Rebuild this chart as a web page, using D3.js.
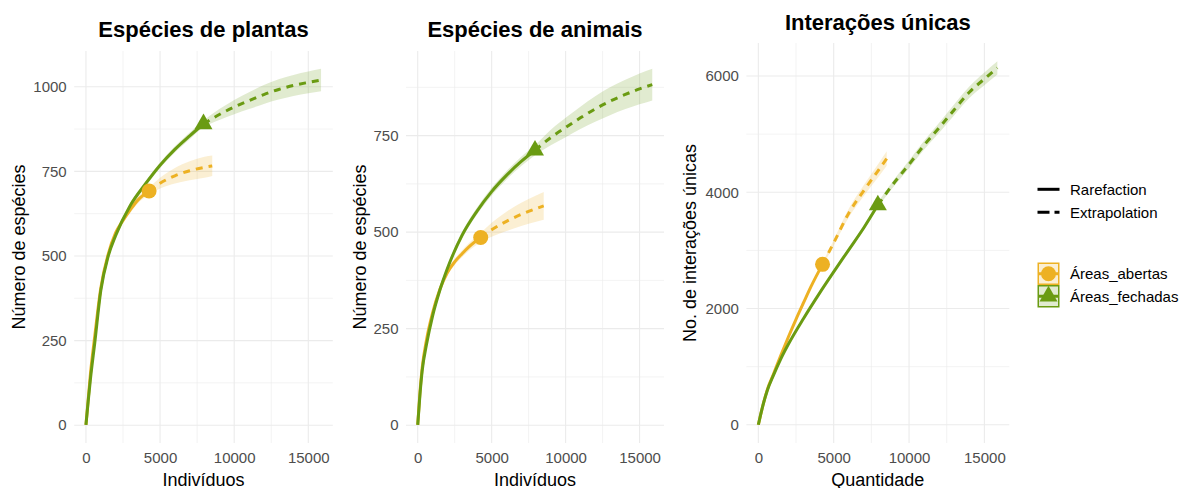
<!DOCTYPE html>
<html>
<head>
<meta charset="utf-8">
<script src="https://cdn.jsdelivr.net/npm/d3@7"></script>
<style>
  html, body { margin: 0; padding: 0; background: #ffffff; }
  svg { display: block; font-family: "Liberation Sans", Arial, sans-serif; }
</style>
</head>
<body>
<svg id="chart" width="1184" height="488"></svg>
<script>
// Sample sizes (individuals / quantity) for each assemblage
const openRareN   = [1, 150, 300, 600, 1000, 1500, 2000, 2500, 3000, 3500, 4260];
const openExtN    = [4260, 5000, 6000, 7000, 8000, 8520];
const closedRareN = [1, 150, 300, 600, 1000, 1500, 2000, 3000, 4000, 5000, 6000, 7000, 7930];
const closedExtN  = [7930, 9000, 10000, 11000, 12000, 13000, 14000, 15000, 15860];

// Espécies de plantas
const plantOpenRare     = [1, 75, 150, 265, 405, 505, 568, 605, 637, 665, 692];
const plantOpenRareLo   = [1, 72, 146, 260, 399, 498, 560, 597, 628, 655, 681];
const plantOpenRareHi   = [1, 78, 154, 270, 411, 512, 576, 613, 646, 675, 703];
const plantOpenExt      = [692, 715, 737, 752, 762, 766];
const plantOpenExtLo    = [681, 699, 714, 724, 731, 736];
const plantOpenExtHi    = [703, 731, 760, 780, 793, 797];
const plantClosedRare   = [1, 70, 135, 245, 397, 499, 560, 650, 712, 768, 815, 855, 890];
const plantClosedRareLo = [1, 68, 132, 241, 392, 493, 554, 643, 704, 760, 806, 845, 880];
const plantClosedRareHi = [1, 72, 138, 249, 402, 505, 566, 657, 720, 776, 824, 865, 900];
const plantClosedExt    = [890, 918, 940, 959, 977, 992, 1004, 1013, 1020];
const plantClosedExtLo  = [880, 902, 919, 934, 949, 962, 973, 981, 987];
const plantClosedExtHi  = [900, 934, 961, 984, 1005, 1022, 1035, 1045, 1053];

// Espécies de animais
const animalOpenRare     = [1, 85, 148, 222, 290, 352, 395, 423, 444, 463, 486];
const animalOpenRareLo   = [1, 83, 145, 218, 285, 346, 388, 415, 435, 453, 474];
const animalOpenRareHi   = [1, 87, 151, 226, 295, 358, 402, 431, 453, 473, 498];
const animalOpenExt      = [486, 506, 528, 546, 561, 568];
const animalOpenExtLo    = [474, 488, 503, 516, 527, 532];
const animalOpenExtHi    = [498, 524, 553, 576, 595, 604];
const animalClosedRare   = [1, 78, 140, 210, 282, 350, 405, 492, 554, 605, 647, 683, 712];
const animalClosedRareLo = [1, 76, 137, 206, 277, 344, 398, 484, 545, 595, 636, 671, 699];
const animalClosedRareHi = [1, 80, 143, 214, 287, 356, 412, 500, 563, 615, 658, 695, 725];
const animalClosedExt    = [712, 745, 771, 796, 819, 839, 856, 871, 882];
const animalClosedExtLo  = [699, 725, 746, 767, 786, 803, 818, 831, 841];
const animalClosedExtHi  = [725, 765, 796, 825, 852, 875, 894, 911, 923];

// Interações únicas
const interOpenRare     = [1, 170, 330, 610, 870, 1200, 1515, 1815, 2100, 2380, 2760];
const interOpenRareLo   = [1, 167, 325, 602, 858, 1185, 1497, 1795, 2078, 2355, 2732];
const interOpenRareHi   = [1, 173, 335, 618, 882, 1215, 1533, 1835, 2122, 2405, 2788];
const interOpenExt      = [2760, 3130, 3640, 4030, 4390, 4580];
const interOpenExtLo    = [2732, 3080, 3565, 3935, 4275, 4455];
const interOpenExtHi    = [2788, 3180, 3715, 4125, 4505, 4705];
const interClosedRare   = [1, 170, 330, 595, 850, 1140, 1390, 1830, 2240, 2630, 3010, 3390, 3780];
const interClosedRareLo = [1, 167, 325, 587, 838, 1125, 1372, 1808, 2214, 2600, 2976, 3352, 3738];
const interClosedRareHi = [1, 173, 335, 603, 862, 1155, 1408, 1852, 2266, 2660, 3044, 3428, 3822];
const interClosedExt    = [3780, 4160, 4480, 4810, 5110, 5420, 5720, 5950, 6140];
const interClosedExtLo  = [3738, 4105, 4415, 4735, 5025, 5325, 5620, 5840, 6025];
const interClosedExtHi  = [3822, 4215, 4545, 4885, 5195, 5515, 5820, 6060, 6255];

// Axis breaks and labels
const xTicks       = [0, 5000, 10000, 15000];
const xMinorTicks  = [2500, 7500, 12500];
const plantYTicks  = [0, 250, 500, 750, 1000];
const plantYMinor  = [125, 375, 625, 875];
const animalYTicks = [0, 250, 500, 750];
const animalYMinor = [125, 375, 625, 875];
const interYTicks  = [0, 2000, 4000, 6000];
const interYMinor  = [1000, 3000, 5000];

const groupNames = ["Áreas_abertas", "Áreas_fechadas"];
const methodNames = ["Rarefaction", "Extrapolation"];
const colors = { open: "#EDB123", closed: "#6A9B12" };

const zip = (n, y, lo, hi) => n.map((v, i) => ({ x: v, y: y[i], lo: lo[i], hi: hi[i] }));

const panels = [
  {
    title: "Espécies de plantas", xTitle: "Indivíduos", yTitle: "Número de espécies",
    yTicks: plantYTicks, yMinor: plantYMinor,
    box: { left: 74.2, right: 332.8, top: 51, bottom: 443 }, yTitleX: 25, titleY: 36.5,
    open:   { rare: zip(openRareN, plantOpenRare, plantOpenRareLo, plantOpenRareHi),
              ext:  zip(openExtN, plantOpenExt, plantOpenExtLo, plantOpenExtHi) },
    closed: { rare: zip(closedRareN, plantClosedRare, plantClosedRareLo, plantClosedRareHi),
              ext:  zip(closedExtN, plantClosedExt, plantClosedExtLo, plantClosedExtHi) }
  },
  {
    title: "Espécies de animais", xTitle: "Indivíduos", yTitle: "Número de espécies",
    yTicks: animalYTicks, yMinor: animalYMinor,
    box: { left: 406, right: 664, top: 51, bottom: 443 }, yTitleX: 365.5, titleY: 36.5,
    open:   { rare: zip(openRareN, animalOpenRare, animalOpenRareLo, animalOpenRareHi),
              ext:  zip(openExtN, animalOpenExt, animalOpenExtLo, animalOpenExtHi) },
    closed: { rare: zip(closedRareN, animalClosedRare, animalClosedRareLo, animalClosedRareHi),
              ext:  zip(closedExtN, animalClosedExt, animalClosedExtLo, animalClosedExtHi) }
  },
  {
    title: "Interações únicas", xTitle: "Quantidade", yTitle: "No. de interações únicas",
    yTicks: interYTicks, yMinor: interYMinor,
    box: { left: 746.4, right: 1009.3, top: 43, bottom: 443 }, yTitleX: 696, titleY: 30,
    open:   { rare: zip(openRareN, interOpenRare, interOpenRareLo, interOpenRareHi),
              ext:  zip(openExtN, interOpenExt, interOpenExtLo, interOpenExtHi) },
    closed: { rare: zip(closedRareN, interClosedRare, interClosedRareLo, interClosedRareHi),
              ext:  zip(closedExtN, interClosedExt, interClosedExtLo, interClosedExtHi) }
  }
];

const svg = d3.select("#chart");
const triangleArea = 140;

function expand(lo, hi) {
  const pad = (hi - lo) * 0.05;
  return [lo - pad, hi + pad];
}

function drawPanel(p) {
  const all = [...p.open.rare, ...p.open.ext, ...p.closed.rare, ...p.closed.ext];
  const x = d3.scaleLinear()
    .domain(expand(d3.min(all, d => d.x), d3.max(all, d => d.x)))
    .range([p.box.left, p.box.right]);
  const y = d3.scaleLinear()
    .domain(expand(Math.min(0, d3.min(all, d => d.lo)), d3.max(all, d => d.hi)))
    .range([p.box.bottom, p.box.top]);

  const g = svg.append("g");

  // grid: minor then major
  const grid = g.append("g");
  grid.selectAll("line.xminor").data(xMinorTicks).join("line")
    .attr("x1", d => x(d)).attr("x2", d => x(d))
    .attr("y1", p.box.top).attr("y2", p.box.bottom)
    .attr("stroke", "#EBEBEB").attr("stroke-width", 0.6);
  grid.selectAll("line.yminor").data(p.yMinor).join("line")
    .attr("x1", p.box.left).attr("x2", p.box.right)
    .attr("y1", d => y(d)).attr("y2", d => y(d))
    .attr("stroke", "#EBEBEB").attr("stroke-width", 0.6);
  grid.selectAll("line.xmajor").data(xTicks).join("line")
    .attr("x1", d => x(d)).attr("x2", d => x(d))
    .attr("y1", p.box.top).attr("y2", p.box.bottom)
    .attr("stroke", "#EBEBEB").attr("stroke-width", 1.1);
  grid.selectAll("line.ymajor").data(p.yTicks).join("line")
    .attr("x1", p.box.left).attr("x2", p.box.right)
    .attr("y1", d => y(d)).attr("y2", d => y(d))
    .attr("stroke", "#EBEBEB").attr("stroke-width", 1.1);

  // axes (labels only, no lines or ticks)
  const xAxis = g.append("g")
    .attr("transform", `translate(0,${p.box.bottom})`)
    .call(d3.axisBottom(x).tickValues(xTicks).tickFormat(d3.format("d")).tickSize(0).tickPadding(9));
  const yAxis = g.append("g")
    .attr("transform", `translate(${p.box.left},0)`)
    .call(d3.axisLeft(y).tickValues(p.yTicks).tickFormat(d3.format("d")).tickSize(0).tickPadding(7.5));
  [xAxis, yAxis].forEach(a => {
    a.select(".domain").remove();
    a.selectAll("text")
      .attr("fill", "#4D4D4D")
      .style("font-size", "15px")
      .style("font-family", "'Liberation Sans', Arial, sans-serif");
  });

  const band = d3.area().x(d => x(d.x)).y0(d => y(d.lo)).y1(d => y(d.hi)).curve(d3.curveMonotoneX);
  const line = d3.line().x(d => x(d.x)).y(d => y(d.y)).curve(d3.curveMonotoneX);

  const groups = [
    { key: "open", data: p.open },
    { key: "closed", data: p.closed }
  ];

  // confidence bands
  groups.forEach(gr => {
    g.append("path")
      .datum([...gr.data.rare, ...gr.data.ext.slice(1)])
      .attr("d", band)
      .attr("fill", colors[gr.key])
      .attr("fill-opacity", 0.2);
  });

  // curves
  groups.forEach(gr => {
    g.append("path").datum(gr.data.rare).attr("d", line)
      .attr("fill", "none").attr("stroke", colors[gr.key])
      .attr("stroke-width", 3).attr("stroke-linecap", "butt");
    g.append("path").datum(gr.data.ext).attr("d", line)
      .attr("fill", "none").attr("stroke", colors[gr.key])
      .attr("stroke-width", 3).attr("stroke-dasharray", "7,6");
  });

  // observed sample points
  const obsOpen = p.open.rare[p.open.rare.length - 1];
  const obsClosed = p.closed.rare[p.closed.rare.length - 1];
  g.append("circle")
    .attr("cx", x(obsOpen.x)).attr("cy", y(obsOpen.y)).attr("r", 7.5)
    .attr("fill", colors.open);
  g.append("path")
    .attr("d", d3.symbol(d3.symbolTriangle, triangleArea)())
    .attr("transform", `translate(${x(obsClosed.x)},${y(obsClosed.y)})`)
    .attr("fill", colors.closed);

  // titles
  const cx = (p.box.left + p.box.right) / 2;
  g.append("text").attr("x", cx).attr("y", p.titleY)
    .attr("text-anchor", "middle").style("font-size", "22px").style("font-weight", "bold")
    .attr("fill", "#000").text(p.title);
  g.append("text").attr("x", cx).attr("y", 485.5)
    .attr("text-anchor", "middle").style("font-size", "18px")
    .attr("fill", "#000").text(p.xTitle);
  g.append("text")
    .attr("transform", `translate(${p.yTitleX},${(p.box.top + p.box.bottom) / 2}) rotate(-90)`)
    .attr("text-anchor", "middle").style("font-size", "18px")
    .attr("fill", "#000").text(p.yTitle);
}

panels.forEach(drawPanel);

// legend
const lg = svg.append("g");
const keyX0 = 1037.5, keyX1 = 1059.5, textX = 1070;
const methodY = [189.3, 212.3];
methodNames.forEach((m, i) => {
  lg.append("line")
    .attr("x1", keyX0).attr("x2", keyX1).attr("y1", methodY[i]).attr("y2", methodY[i])
    .attr("stroke", "#000").attr("stroke-width", 3)
    .attr("stroke-dasharray", i === 0 ? null : "12,5");
  lg.append("text").attr("x", textX).attr("y", methodY[i] + 5.5)
    .style("font-size", "15px").attr("fill", "#000").text(m);
});

const groupKeys = ["open", "closed"];
const keyTop = [262.5, 285];
const keyH = 22.5;
groupNames.forEach((name, i) => {
  const c = colors[groupKeys[i]];
  const cy = keyTop[i] + keyH / 2;
  lg.append("rect")
    .attr("x", keyX0 + 0.75).attr("y", keyTop[i] + 0.75)
    .attr("width", keyX1 - keyX0 - 1.5).attr("height", keyH - 1.5)
    .attr("fill", c).attr("fill-opacity", 0.2)
    .attr("stroke", c).attr("stroke-width", 1.5);
  lg.append("line")
    .attr("x1", keyX0 + 1.5).attr("x2", keyX1 - 1.5).attr("y1", cy).attr("y2", cy)
    .attr("stroke", c).attr("stroke-width", 3);
  if (i === 0) {
    lg.append("circle").attr("cx", (keyX0 + keyX1) / 2).attr("cy", cy).attr("r", 7.5).attr("fill", c);
  } else {
    lg.append("path")
      .attr("d", d3.symbol(d3.symbolTriangle, triangleArea)())
      .attr("transform", `translate(${(keyX0 + keyX1) / 2},${cy})`)
      .attr("fill", c);
  }
  lg.append("text").attr("x", textX).attr("y", cy + 5.5)
    .style("font-size", "15px").attr("fill", "#000").text(name);
});
</script>
</body>
</html>
